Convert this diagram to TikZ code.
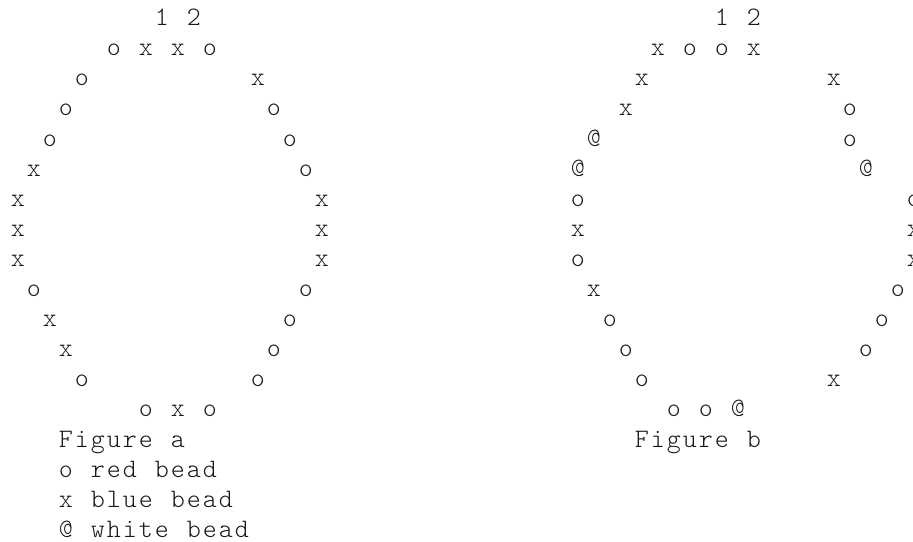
\documentclass[tikz,border=0pt]{standalone}
\usepackage{fontspec}
\newfontfamily\beadfont{lmmonolt10-regular.otf}
\newcommand\cellx[1]{\makebox[12pt]{#1}}
\def\monostr#1{\monoloop#1\relax}
\def\monoloop#1{\ifx#1\relax\else\cellx{#1}\expandafter\monoloop\fi}
\tikzset{
  glyph/.style={anchor=base, inner sep=0pt, outer sep=0pt,
    font=\beadfont\fontsize{20pt}{24pt}\selectfont, text=black!90},
  legend/.style={glyph, anchor=base west},
}
\begin{document}
\begin{tikzpicture}[x=0.75pt,y=-0.75pt]
\useasboundingbox (0,0) rectangle (913,542);
\begin{scope}
\clip (0,0) rectangle (913,542);
% column numbers
\foreach \i/\c/\g in {0/9/1,0/11/2,0/44/1,0/46/2}
  \node[glyph] (d-\c) at ({17.9+16*\c},{25.6+30.1*\i}) {\g};
% Figure a
\foreach \i/\c/\g in {1/6/o,1/8/x,1/10/x,1/12/o,
  2/4/o,2/15/x, 3/3/o,3/16/o, 4/2/o,4/17/o, 5/1/x,5/18/o,
  6/0/x,6/19/x, 7/0/x,7/19/x, 8/0/x,8/19/x, 9/1/o,9/18/o,
  10/2/x,10/17/o, 11/3/x,11/16/o, 12/4/o,12/15/o,
  13/8/o,13/10/x,13/12/o}
  \node[glyph] (a-\i-\c) at ({17.9+16*\c},{25.6+30.1*\i}) {\g};
% Figure b
\foreach \i/\c/\g in {1/40/x,1/42/o,1/44/o,1/46/x,
  2/39/x,2/51/x, 3/38/x,3/52/o, 4/36/@,4/52/o, 5/35/@,5/53/@,
  6/35/o,6/56/o, 7/35/x,7/56/x, 8/35/o,8/56/x, 9/36/x,9/55/o,
  10/37/o,10/54/o, 11/38/o,11/53/o, 12/39/o,12/51/x,
  13/41/o,13/43/o,13/45/@}
  \node[glyph] (b-\i-\c) at ({17.9+16*\c},{25.6+30.1*\i}) {\g};
% captions and legend
\node[legend] (capa) at ({9.9+16*3},{25.6+30.1*14}) {\monostr{Figure~a}};
\node[legend] (capb) at ({9.9+16*39},{25.6+30.1*14}) {\monostr{Figure~b}};
\node[legend] (lgo) at ({9.9+16*3},{25.6+30.1*15}) {\monostr{o~red~bead}};
\node[legend] (lgx) at ({9.9+16*3},{25.6+30.1*16}) {\monostr{x~blue~bead}};
\node[legend] (lgw) at ({9.9+16*3},{25.6+30.1*17}) {\monostr{@~white~bead}};
\end{scope}
\end{tikzpicture}
\end{document}
